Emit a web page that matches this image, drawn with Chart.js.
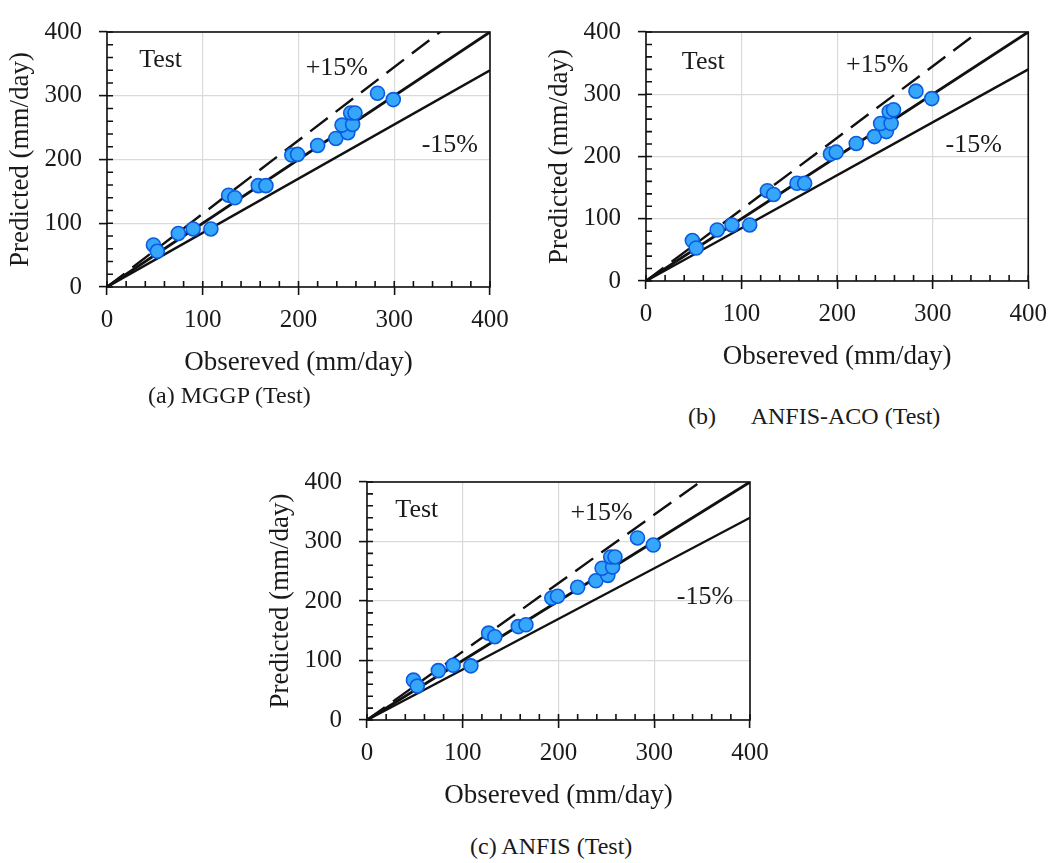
<!DOCTYPE html>
<html>
<head>
<meta charset="utf-8">
<script src="https://cdn.jsdelivr.net/npm/chart.js@4.4.1/dist/chart.umd.min.js"></script>
<style>
  body { margin: 0; background: #fff; }
  #page { position: relative; width: 1057px; height: 863px; overflow: hidden; }
  .panel { position: absolute; }
  .cap { position: absolute; font-family: 'Liberation Serif', 'Times New Roman', serif; font-size: 24px; color: #1a1a1a; white-space: pre; }
</style>
</head>
<body>
<div id="page">
  <div class="panel" style="left:0px; top:0px;"><canvas id="chartA" width="520" height="387"></canvas></div>
  <div class="panel" style="left:539px; top:0px;"><canvas id="chartB" width="518" height="381"></canvas></div>
  <div class="panel" style="left:260px; top:450px;"><canvas id="chartC" width="520" height="370"></canvas></div>
  <div class="cap" style="left:148px; top:382px;">(a) MGGP (Test)</div>
  <div class="cap" style="left:688px; top:403px;">(b)      ANFIS-ACO (Test)</div>
  <div class="cap" style="left:470px; top:833px;">(c) ANFIS (Test)</div>
</div>
<script>
// observed test values (mm/day), same for all three models
const observed = [48.5, 52.5, 74.5, 90, 108.5, 127, 133.5, 158, 166, 193, 199, 220, 239, 251.5, 245.5, 256.5, 254.5, 259, 282.5, 299];
// predicted values per model
const predMGGP = [66, 56, 84, 91, 91, 144, 140, 159, 159, 207, 208, 222, 233, 242, 254, 255, 273, 273, 304, 294];
const predACO  = [65, 53, 82, 90, 90, 145, 139, 157, 157, 204, 207, 221, 232, 240, 253, 253, 272, 275, 305, 293];
const predANFIS = [67, 57, 83, 92, 91, 146, 140, 157, 160, 205, 208, 223, 234, 243, 255, 257, 274, 274, 306, 294];

// reference lines: 1:1, +15%, -15%
const lineRatios = [1, 1.15, 0.85];
const axisMax = 400;
const majorStep = 100;
const minorStep = 20;

// text labels inside each panel [text, x, y]
const notesA = [['Test', 56, 356], ['+15%', 240, 344], ['-15%', 358, 223]];
const notesB = [['Test', 60, 352], ['+15%', 242, 346], ['-15%', 343, 218]];
const notesC = [['Test', 52, 352], ['+15%', 245, 347], ['-15%', 353, 207]];

const serif = 'Liberation Serif, Times New Roman, serif';
Chart.defaults.font.family = serif;
Chart.defaults.color = '#1a1a1a';

const framePlugin = {
  id: 'frame',
  afterDraw(chart) {
    const ctx = chart.ctx;
    const a = chart.chartArea;
    const xs = chart.scales.x, ys = chart.scales.y;
    ctx.save();
    ctx.strokeStyle = '#111';
    ctx.lineWidth = 1.6;
    // small inward ticks
    ctx.beginPath();
    for (let v = 0; v <= axisMax; v += minorStep) {
      const px = xs.getPixelForValue(v);
      ctx.moveTo(px, a.bottom);
      ctx.lineTo(px, a.bottom - 6);
      const py = ys.getPixelForValue(v);
      ctx.moveTo(a.left, py);
      ctx.lineTo(a.left + 6, py);
    }
    ctx.stroke();
    ctx.strokeRect(a.left, a.top, a.right - a.left, a.bottom - a.top);
    // notes
    const notes = chart.options.plugins.frame.notes || [];
    ctx.fillStyle = '#1a1a1a';
    ctx.font = '26px ' + serif;
    ctx.textAlign = 'center';
    ctx.textBaseline = 'middle';
    notes.forEach(n => {
      ctx.fillText(n[0], xs.getPixelForValue(n[1]), ys.getPixelForValue(n[2]));
    });
    ctx.restore();
  }
};

function makePanel(id, pred, notes) {
  const points = observed.map((x, i) => ({ x: x, y: pred[i] }));
  const lines = lineRatios.map(r => ({
    type: 'line',
    data: [{ x: 0, y: 0 }, { x: axisMax, y: axisMax * r }],
    borderColor: '#111',
    borderWidth: r === 1 ? 2.8 : 2.4,
    borderDash: r > 1 ? [22, 10] : [],
    pointRadius: 0,
    fill: false,
    order: 2
  }));

  new Chart(document.getElementById(id), {
    type: 'scatter',
    data: {
      datasets: [{
        data: points,
        backgroundColor: '#36a6fb',
        borderColor: '#0a5ce0',
        borderWidth: 1.6,
        pointRadius: 7,
        order: 0
      }].concat(lines)
    },
    options: {
      responsive: false,
      animation: false,
      layout: { padding: { top: id === 'chartB' ? 29 : (id === 'chartC' ? 22 : 23), right: id === 'chartB' ? 27 : 30, left: 0, bottom: 0 } },
      scales: {
        x: {
          type: 'linear', min: 0, max: axisMax,
          afterFit: s => { s.height = 100; },
          ticks: { stepSize: majorStep, padding: 10, color: '#1a1a1a', font: { family: serif, size: 25 }, maxRotation: 0 },
          grid: { color: '#dadada', lineWidth: 1.2, tickColor: '#111', tickLength: 8, tickWidth: 1.6 },
          border: { display: false },
          title: { display: true, text: 'Obsereved (mm/day)', color: '#1a1a1a', font: { family: serif, size: 27 }, padding: { top: 0, bottom: 8 } }
        },
        y: {
          type: 'linear', min: 0, max: axisMax,
          afterFit: s => { s.width = 107; },
          ticks: { stepSize: majorStep, padding: 17, color: '#1a1a1a', font: { family: serif, size: 25 } },
          grid: { color: '#dadada', lineWidth: 1.2, tickColor: '#111', tickLength: 8, tickWidth: 1.6 },
          border: { display: false },
          title: { display: true, text: 'Predicted (mm/day)', color: '#1a1a1a', font: { family: serif, size: 27 }, padding: { top: 5, bottom: 0 } }
        }
      },
      plugins: {
        legend: { display: false },
        tooltip: { enabled: false },
        frame: { notes: notes }
      }
    },
    plugins: [framePlugin]
  });
}

makePanel('chartA', predMGGP, notesA);
makePanel('chartB', predACO, notesB);
makePanel('chartC', predANFIS, notesC);
</script>
</body>
</html>
